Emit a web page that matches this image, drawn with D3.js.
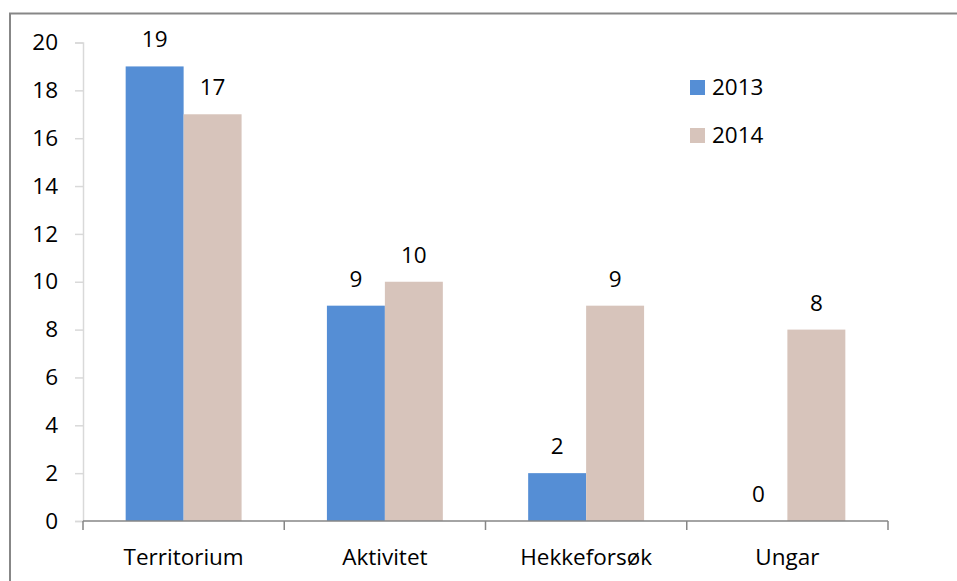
<!DOCTYPE html>
<html>
<head>
<meta charset="utf-8">
<script src="https://cdn.jsdelivr.net/npm/d3@7"></script>
<style>
  body { margin: 0; background: #fff; }
  text { font-family: "Open Sans", "Noto Sans", sans-serif; fill: #000; }
</style>
</head>
<body>
<div id="chart"></div>
<script>
// data
const categories = ['Territorium', 'Aktivitet', 'Hekkeforsøk', 'Ungar'];
const seriesNames = ['2013', '2014'];
const values2013 = [19, 9, 2, 0];
const values2014 = [17, 10, 9, 8];
const yTicks = [0, 2, 4, 6, 8, 10, 12, 14, 16, 18, 20];
const colors = ['#558ed5', '#d7c4bb'];

const dataset = categories.map((c, i) => ({
  category: c,
  values: [values2013[i], values2014[i]],
}));

const fontFamily = '"Open Sans", sans-serif';
const fontSize = 22.5;

let dimensions = {
  width: 957,
  height: 581,
  margin: { top: 42.5, right: 69, bottom: 60, left: 83 },
};
dimensions.boundedWidth =
  dimensions.width - dimensions.margin.left - dimensions.margin.right;
dimensions.boundedHeight = 521 - dimensions.margin.top;

// scales
const xScale = d3
  .scaleBand()
  .domain(categories)
  .range([0, dimensions.boundedWidth]);

const gap = 0.424 * xScale.bandwidth();
const xInner = d3
  .scaleBand()
  .domain(seriesNames)
  .range([gap / 2, xScale.bandwidth() - gap / 2]);

const yScale = d3
  .scaleLinear()
  .domain([0, 20])
  .range([dimensions.boundedHeight, 0]);

const colorScale = d3.scaleOrdinal().domain(seriesNames).range(colors);

// canvas
const wrapper = d3
  .select('#chart')
  .append('svg')
  .attr('width', dimensions.width)
  .attr('height', dimensions.height);

wrapper
  .append('rect')
  .attr('x', 10)
  .attr('y', 13.5)
  .attr('width', 1000)
  .attr('height', 1000)
  .attr('fill', 'none')
  .attr('stroke', '#878787')
  .attr('stroke-width', 2);

const bounds = wrapper
  .append('g')
  .attr(
    'transform',
    `translate(${dimensions.margin.left}, ${dimensions.margin.top})`
  );

// y axis
const yAxisGenerator = d3
  .axisLeft(yScale)
  .tickValues(yTicks)
  .tickSize(8)
  .tickPadding(17);
const yAxis = bounds.append('g').call(yAxisGenerator);
yAxis.select('.domain').attr('stroke', '#d9d9d9').attr('stroke-width', 1.5);
yAxis.selectAll('.tick line').attr('stroke', '#d9d9d9').attr('stroke-width', 1.5);
yAxis
  .selectAll('.tick text')
  .attr('font-size', fontSize)
  .attr('font-family', fontFamily)
  .attr('fill', '#000');

// bars
const groups = bounds
  .selectAll('.group')
  .data(dataset)
  .enter()
  .append('g')
  .attr('transform', (d) => `translate(${xScale(d.category)}, 0)`);

const bars = groups
  .selectAll('rect')
  .data((d) => d.values.map((v, i) => ({ series: seriesNames[i], value: v })))
  .enter();

bars
  .append('rect')
  .attr('x', (d) => xInner(d.series))
  .attr('y', (d) => yScale(d.value))
  .attr('width', xInner.bandwidth())
  .attr('height', (d) => dimensions.boundedHeight - yScale(d.value))
  .attr('fill', (d) => colorScale(d.series));

bars
  .append('text')
  .attr('x', (d) => xInner(d.series) + xInner.bandwidth() / 2)
  .attr('y', (d) => yScale(d.value) - 19)
  .attr('text-anchor', 'middle')
  .attr('font-size', fontSize)
  .text((d) => d.value);

// x axis
const xAxisGenerator = d3
  .axisBottom(xScale)
  .tickSize(0)
  .tickPadding(0);
const xAxis = bounds
  .append('g')
  .attr('transform', `translate(0, ${dimensions.boundedHeight})`)
  .call(xAxisGenerator);
xAxis.select('.domain').remove();
xAxis
  .append('line')
  .attr('x1', 0)
  .attr('x2', dimensions.boundedWidth)
  .attr('stroke', '#868686')
  .attr('stroke-width', 1.5);
xAxis
  .selectAll('.boundary')
  .data(categories.concat(['end']))
  .enter()
  .append('line')
  .attr('x1', (d, i) => i * xScale.step())
  .attr('x2', (d, i) => i * xScale.step())
  .attr('y1', 0)
  .attr('y2', 9)
  .attr('stroke', '#868686')
  .attr('stroke-width', 1.5);
xAxis
  .selectAll('.tick text')
  .attr('y', 44)
  .attr('dy', 0)
  .attr('font-size', fontSize)
  .attr('font-family', fontFamily)
  .attr('fill', '#000');

// legend
const legend = wrapper
  .append('g')
  .attr('transform', 'translate(690, 80)');
const legendItems = legend
  .selectAll('g')
  .data(seriesNames)
  .enter()
  .append('g')
  .attr('transform', (d, i) => `translate(0, ${i * 48})`);
legendItems
  .append('rect')
  .attr('width', 15)
  .attr('height', 15)
  .attr('fill', (d) => colorScale(d));
legendItems
  .append('text')
  .attr('x', 22)
  .attr('y', 15)
  .attr('font-size', fontSize)
  .text((d) => d);
</script>
</body>
</html>
